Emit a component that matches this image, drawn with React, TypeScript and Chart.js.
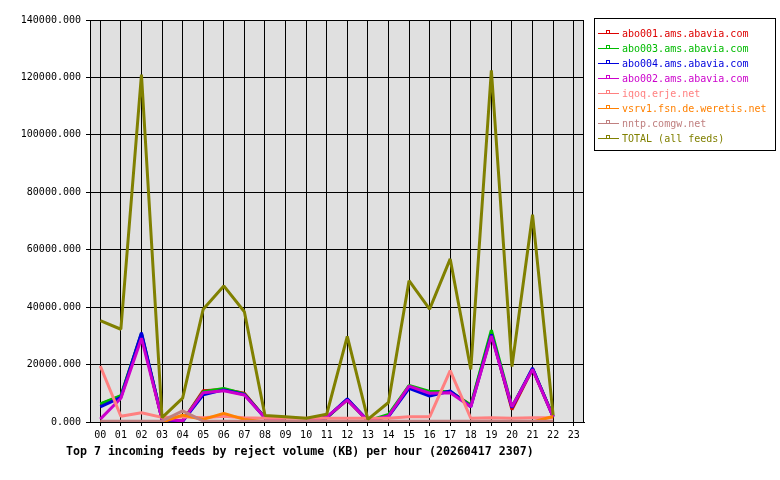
import React, { useEffect, useRef } from "react";
import { Chart, registerables } from "chart.js";

Chart.register(...registerables);

const hours = ["00","01","02","03","04","05","06","07","08","09","10","11","12","13","14","15","16","17","18","19","20","21","22","23"];

const abo001 = [6200, 9000, 30500, 900, 300, 10900, 11300, 10000, 1500, 200, 100, 1500, 7800, 400, 2000, 12500, 10300, 10500, 5800, 31000, 4300, 18500, 1900, null];
const abo003 = [6300, 9200, 30800, 900, 300, 10500, 11700, 9800, 1500, 200, 100, 1500, 7800, 400, 2600, 12700, 10600, 10600, 5900, 32000, 5300, 18500, 2000, null];
const abo004 = [5300, 8600, 31100, 900, 200, 9500, 11200, 9600, 1500, 200, 100, 1500, 8100, 400, 1900, 11700, 9050, 10800, 5300, 30500, 5000, 18800, 1800, null];
const abo002 = [1000, 8250, 29200, 950, 400, 10200, 10900, 9400, 1500, 200, 100, 1800, 7600, 400, 2000, 12500, 10000, 10200, 5300, 30000, 5300, 18300, 1800, null];
const iqoq = [19500, 2000, 3200, 1600, 1800, 1500, 2000, 1500, 1300, 1300, 1300, 1300, 1300, 1300, 1300, 1800, 1800, 17900, 1300, 1500, 1300, 1500, 1500, null];
const vsrv1 = [0, 0, 0, 0, 2400, 900, 3000, 900, 0, 0, 0, 0, 0, 0, 0, 0, 0, 0, 0, 0, 0, 0, 1900, null];
const nntp = [300, 300, 300, 300, 3900, 300, 300, 300, 300, 300, 300, 300, 300, 300, 300, 300, 300, 300, 300, 300, 300, 300, 300, null];
const total = [35300, 32300, 121000, 1500, 8300, 39300, 47400, 38400, 2300, 1800, 1300, 2700, 29800, 900, 6800, 49200, 39300, 56800, 18300, 122500, 19300, 72200, 2400, null];

const seriesNames = ["abo001.ams.abavia.com", "abo003.ams.abavia.com", "abo004.ams.abavia.com", "abo002.ams.abavia.com", "iqoq.erje.net", "vsrv1.fsn.de.weretis.net", "nntp.comgw.net", "TOTAL (all feeds)"];
const seriesValues = [abo001, abo003, abo004, abo002, iqoq, vsrv1, nntp, total];
const seriesColors = ["#dd0000", "#00bb00", "#0000dd", "#cc00cc", "#ff8080", "#ff8000", "#c08080", "#808000"];

const yTicks = [0, 20000, 40000, 60000, 80000, 100000, 120000, 140000];
const chartTitle = "Top 7 incoming feeds by reject volume (KB) per hour (20260417 2307)";

const MONO = '"DejaVu Sans Mono", monospace';

const decorPlugin = {
  id: "decor",
  beforeDraw(chart: any) {
    const { ctx, chartArea } = chart;
    ctx.save();
    ctx.fillStyle = "#ffffff";
    ctx.fillRect(0, 0, chart.width, chart.height);
    ctx.fillStyle = "#e0e0e0";
    ctx.fillRect(chartArea.left, chartArea.top, chartArea.right - chartArea.left, chartArea.bottom - chartArea.top);
    ctx.restore();
  },
  afterDraw(chart: any) {
    const { ctx, chartArea } = chart;
    ctx.save();
    // plot border
    ctx.strokeStyle = "#000";
    ctx.lineWidth = 1;
    const l = Math.round(chartArea.left) + 0.5;
    const t = Math.round(chartArea.top) + 0.5;
    const r = Math.round(chartArea.right) - 0.5;
    const b = Math.round(chartArea.bottom) + 0.5;
    ctx.strokeRect(l, t, r - l, b - t);

    // title
    ctx.fillStyle = "#000";
    ctx.font = "bold 11.6px " + MONO;
    ctx.textBaseline = "middle";
    ctx.textAlign = "left";
    ctx.fillText(chartTitle, 66, 452);

    // legend
    ctx.fillStyle = "#fff";
    ctx.fillRect(594, 18, 181, 132);
    ctx.strokeStyle = "#000";
    ctx.strokeRect(594.5, 18.5, 181, 132);
    ctx.font = "10px " + MONO;
    chart.data.datasets.forEach((ds: any, i: number) => {
      const y = 33 + 15 * i;
      ctx.strokeStyle = ds.borderColor;
      ctx.lineWidth = 1;
      ctx.beginPath();
      ctx.moveTo(598, y + 0.5);
      ctx.lineTo(619, y + 0.5);
      ctx.stroke();
      ctx.strokeRect(606.5, y - 2.5, 3, 3);
      ctx.fillStyle = ds.borderColor;
      ctx.fillText(ds.label, 622, y + 1);
    });
    ctx.restore();
  },
};

export default function App() {
  const ref = useRef<HTMLCanvasElement | null>(null);
  useEffect(() => {
    document.body.style.margin = "0";
    const canvas = ref.current!;
    const chart = new Chart(canvas, {
      type: "line",
      data: {
        labels: hours,
        datasets: seriesValues.map((vals, i) => ({
          label: seriesNames[i],
          data: vals,
          borderColor: seriesColors[i],
          backgroundColor: seriesColors[i],
          borderWidth: 3,
          pointRadius: 0,
          tension: 0,
          fill: false,
          borderJoinStyle: "bevel" as const,
          order: seriesNames.length - i,
        })),
      },
      options: {
        responsive: false,
        animation: false,
        devicePixelRatio: 1,
        layout: { padding: { top: 20, right: 196, bottom: 28, left: 0 } },
        plugins: {
          legend: { display: false },
          tooltip: { enabled: false },
          title: { display: false },
        },
        scales: {
          x: {
            type: "category",
            offset: true,
            grid: { color: "#000", lineWidth: 1, tickLength: 4, drawTicks: true, offset: false },
            border: { color: "#000" },
            ticks: { color: "#000", font: { family: MONO, size: 10 }, padding: 3, maxRotation: 0, autoSkip: false },
            afterFit: (s: any) => { s.height = 30; },
          },
          y: {
            min: 0,
            max: 140000,
            afterBuildTicks: (s: any) => { s.ticks = yTicks.map((v) => ({ value: v })); },
            grid: { color: "#000", lineWidth: 1, tickLength: 4, drawTicks: true },
            border: { color: "#000" },
            ticks: {
              color: "#000",
              font: { family: MONO, size: 10 },
              padding: 5,
              callback: (v: any) => Number(v).toFixed(3),
            },
            afterFit: (s: any) => { s.width = 90; },
          },
        },
      },
      plugins: [decorPlugin],
    });
    return () => chart.destroy();
  }, []);
  return <canvas ref={ref} width={780} height={480} style={{ display: "block" }} />;
}
